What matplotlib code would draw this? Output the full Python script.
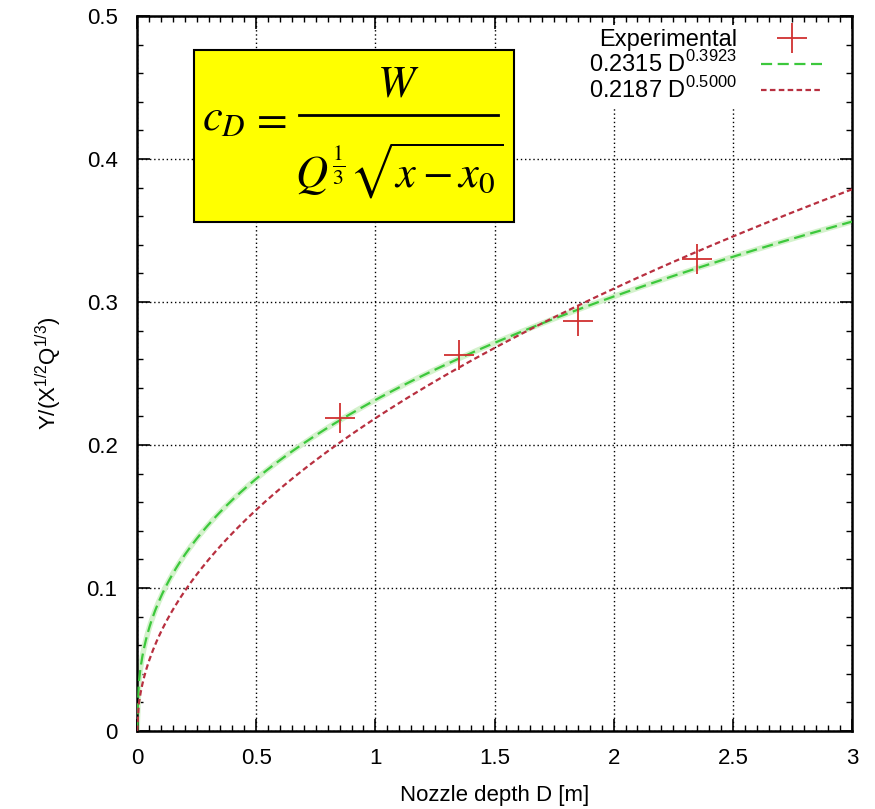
import numpy as np
import matplotlib
matplotlib.use("Agg")
import matplotlib.pyplot as plt
from matplotlib.patches import Rectangle
from matplotlib.lines import Line2D
from matplotlib.ticker import MultipleLocator, FormatStrFormatter

# experimental points
depth = [0.85, 1.35, 1.85, 2.35]
cd_exp = [0.219, 0.263, 0.287, 0.330]

# fitted power laws
fit1_a, fit1_b = 0.2315, 0.3923
fit2_a, fit2_b = 0.2187, 0.5000

plt.rcParams['font.family'] = ['Liberation Sans', 'DejaVu Sans']
plt.rcParams['mathtext.fontset'] = 'custom'
plt.rcParams['mathtext.rm'] = 'Liberation Sans'

W, H = 875, 809
fig = plt.figure(figsize=(W / 100, H / 100), dpi=100)
ax = fig.add_axes([0.1566, 0.0964, 0.8171, 0.8838])

D = np.linspace(0, 3, 400)
ax.plot(D, fit1_a * D ** fit1_b, color='#d4f2cc', lw=4, zorder=2)
ax.plot(D, fit1_a * D ** fit1_b, color='#3cc83c', lw=1.6, ls=(0, (5, 2.5)), zorder=3,
        label=r'0.2315 D$^{0.3923}$')
ax.plot(D, fit2_a * D ** fit2_b, color='#b83040', lw=1.6, ls=(0, (2.5, 1.5)), zorder=3,
        label=r'0.2187 D$^{0.5000}$')
ax.plot(depth, cd_exp, ls='none', marker='+', ms=22, mew=1.3, color='#d03030', zorder=4,
        label='Experimental')

ax.set_xlim(0, 3)
ax.set_ylim(0, 0.5)
ax.xaxis.set_major_locator(MultipleLocator(0.5))
ax.xaxis.set_minor_locator(MultipleLocator(0.05))
ax.yaxis.set_major_locator(MultipleLocator(0.1))
ax.yaxis.set_minor_locator(MultipleLocator(0.02))
ax.xaxis.set_major_formatter(FormatStrFormatter('%g'))
ax.yaxis.set_major_formatter(FormatStrFormatter('%g'))
ax.tick_params(which='both', direction='in', top=True, right=True, labelsize=16)
ax.tick_params(axis='x', pad=12)
ax.tick_params(axis='y', pad=14)
ax.tick_params(which='major', length=9, width=1.2)
ax.tick_params(which='minor', length=4, width=1.0)
for s in ax.spines.values():
    s.set_linewidth(1.8)
ax.grid(True, which='major', color='black', ls=(0, (1, 2)), lw=1.0)

ax.set_xlabel('Nozzle depth D [m]', fontsize=16, labelpad=12)
ax.set_ylabel(r'Y/(X$^{1/2}$Q$^{1/3}$)', fontsize=16, labelpad=16)

handles, labels = ax.get_legend_handles_labels()
order = [2, 0, 1]
leg = ax.legend([handles[i] for i in order], [labels[i] for i in order],
                loc='upper right', bbox_to_anchor=(0.975, 0.998), frameon=True,
                facecolor='white', edgecolor='none', framealpha=1.0, fancybox=False,
                markerfirst=False, fontsize=17, handlelength=2.6, labelspacing=0.0,
                handletextpad=1.0, borderaxespad=0.3, borderpad=0.2)
for t in leg.get_texts():
    t.set_ha('right')

# formula box, laid out in figure pixels
def fx(px):
    return px / W

def fy(py):
    return 1 - py / H

fig.add_artist(Rectangle((fx(194), fy(222)), fx(514) - fx(194), fy(50) - fy(222),
                         transform=fig.transFigure, fc='#ffff00', ec='black', lw=1.5, zorder=10))
math = dict(fontsize=32, math_fontfamily='stix', zorder=11)
fig.text(fx(202), fy(130), r'$c_D$', ha='left', va='baseline', **math)
fig.text(fx(268), fy(120), r'$=$', ha='center', va='center', **math)
fig.add_artist(Line2D([fx(299), fx(498)], [fy(115), fy(115)], transform=fig.transFigure,
                      color='black', lw=2.0, zorder=11))
fig.text(fx(398), fy(97), r'$W$', ha='center', va='baseline', **math)
fig.text(fx(399), fy(188), r'$Q^{\frac{1}{3}}\sqrt{x - x_0}$', ha='center', va='baseline', **math)

fig.savefig('out.png', dpi=100)
